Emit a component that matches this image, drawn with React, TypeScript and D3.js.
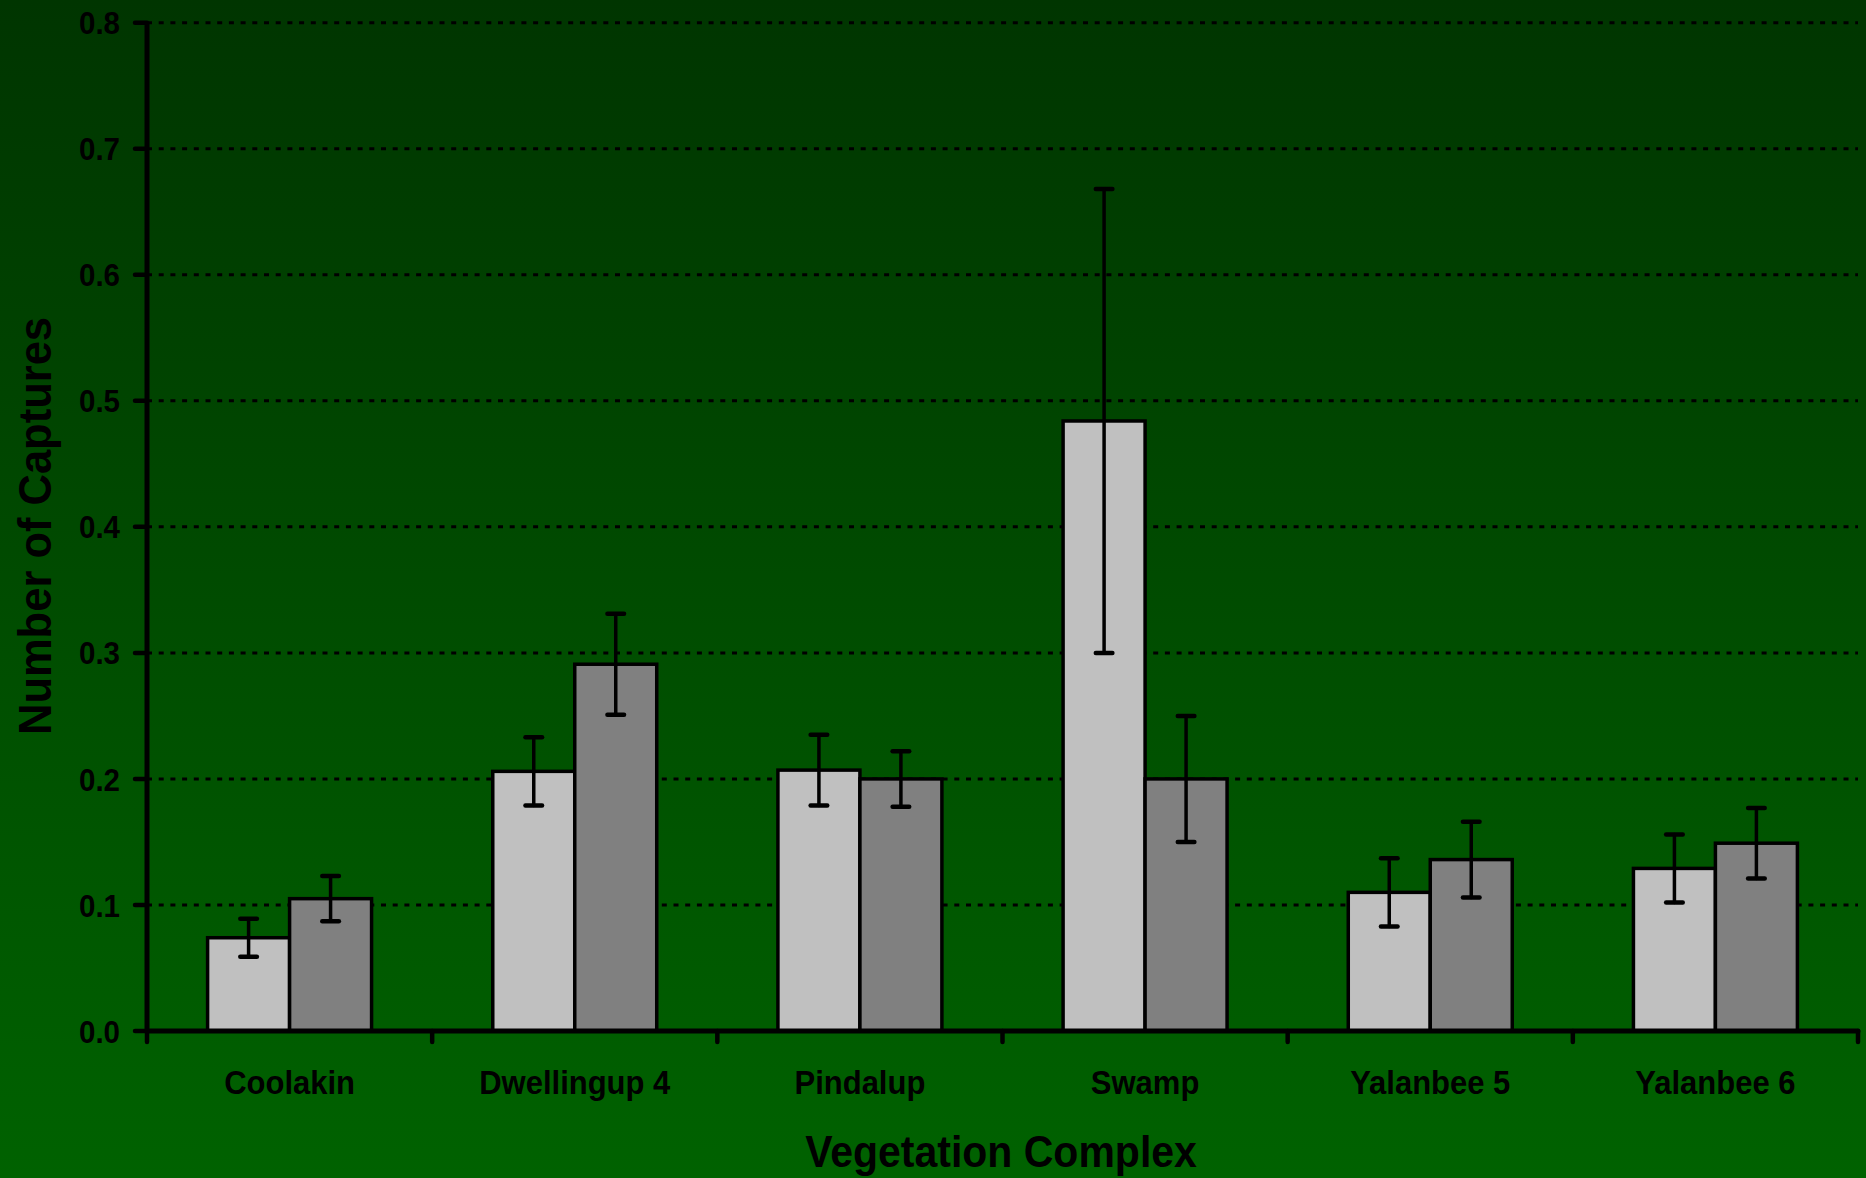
import React from "react";
import * as d3 from "d3";

const categories = ["Coolakin", "Dwellingup 4", "Pindalup", "Swamp", "Yalanbee 5", "Yalanbee 6"];
const seriesNames = ["A", "B"];
const seriesColors = ["#C0C0C0", "#808080"];
const valuesA = [0.074, 0.206, 0.207, 0.484, 0.110, 0.129];
const errA = [0.015, 0.027, 0.028, 0.184, 0.027, 0.027];
const valuesB = [0.105, 0.291, 0.200, 0.200, 0.136, 0.149];
const errB = [0.018, 0.040, 0.022, 0.050, 0.030, 0.028];
const yTicks = [0, 0.1, 0.2, 0.3, 0.4, 0.5, 0.6, 0.7, 0.8];

const W = 1866;
const H = 1178;
const FONT = "'Liberation Sans', Arial, sans-serif";
const SY = 1.08;

export default function App() {
  const x0 = 147;
  const x1 = 1858;
  const yBase = 1031;
  const yTop = 22.7;
  const x = d3.scaleBand<string>().domain(categories).range([x0, x1]).paddingInner(0).paddingOuter(0);
  const y = d3.scaleLinear().domain([0, 0.8]).range([yBase, yTop]);
  const groupHalf = x.bandwidth() * 0.2875;
  const inner = d3.scaleBand<string>().domain(seriesNames).range([-groupHalf, groupHalf]).padding(0);
  const series = [
    { name: "A", vals: valuesA, errs: errA, color: seriesColors[0] },
    { name: "B", vals: valuesB, errs: errB, color: seriesColors[1] },
  ];
  const boundaries = [...categories.map((c) => x(c) as number), x1];
  const capHalf = 8.3;

  return (
    <svg width={W} height={H} style={{ position: "absolute", left: 0, top: 0, display: "block" }}>
      <defs>
        <linearGradient id="bg" x1="0" y1="0" x2="0" y2="1">
          <stop offset="0" stopColor="#003500" />
          <stop offset="1" stopColor="#006200" />
        </linearGradient>
      </defs>
      <rect x={0} y={0} width={W} height={H} fill="url(#bg)" />
      {/* gridlines */}
      {yTicks.filter((t) => t > 0).map((t) => (
        <line key={"g" + t} x1={x0} x2={x1} y1={y(t)} y2={y(t)} stroke="#000" strokeWidth={3} strokeDasharray="5,6.7" />
      ))}
      {/* bars */}
      {series.map((s) =>
        categories.map((c, i) => {
          const cx = (x(c) as number) + x.bandwidth() / 2;
          const bx = cx + (inner(s.name) as number);
          return (
            <rect key={s.name + c} x={bx} y={y(s.vals[i])} width={inner.bandwidth()} height={yBase - y(s.vals[i])}
              fill={s.color} stroke="#000" strokeWidth={3.5} />
          );
        })
      )}
      {/* error bars */}
      {series.map((s) =>
        categories.map((c, i) => {
          const cx = (x(c) as number) + x.bandwidth() / 2 + (inner(s.name) as number) + inner.bandwidth() / 2;
          const hi = y(s.vals[i] + s.errs[i]);
          const lo = y(s.vals[i] - s.errs[i]);
          return (
            <g key={"e" + s.name + c} stroke="#000" strokeLinecap="round">
              <line x1={cx} x2={cx} y1={hi} y2={lo} strokeWidth={3.5} />
              <line x1={cx - capHalf} x2={cx + capHalf} y1={hi} y2={hi} strokeWidth={4.5} />
              <line x1={cx - capHalf} x2={cx + capHalf} y1={lo} y2={lo} strokeWidth={4.5} />
            </g>
          );
        })
      )}
      {/* axes */}
      <line x1={x0} x2={x0} y1={yTop} y2={yBase} stroke="#000" strokeWidth={5} />
      <line x1={x0} x2={x1} y1={yBase} y2={yBase} stroke="#000" strokeWidth={5} strokeLinecap="round" />
      {yTicks.map((t) => (
        <g key={"yt" + t}>
          <line x1={135} x2={x0} y1={y(t)} y2={y(t)} stroke="#000" strokeWidth={4.5} strokeLinecap="round" />
          <text transform={`translate(120,${y(t) + 11.6}) scale(1,${SY})`} textAnchor="end" fontFamily={FONT}
            fontWeight="bold" fontSize={29.5} fill="#000">{t.toFixed(1)}</text>
        </g>
      ))}
      {boundaries.map((bx, i) => (
        <line key={"xt" + i} x1={bx} x2={bx} y1={yBase} y2={yBase + 11} stroke="#000" strokeWidth={4.5} strokeLinecap="round" />
      ))}
      {categories.map((c) => (
        <text key={"cl" + c} transform={`translate(${(x(c) as number) + x.bandwidth() / 2},1094.3) scale(1,${SY})`}
          textAnchor="middle" fontFamily={FONT} fontWeight="bold" fontSize={31} fill="#000">{c}</text>
      ))}
      <text transform={`translate(1001,1167.3) scale(1,${SY})`} textAnchor="middle" fontFamily={FONT}
        fontWeight="bold" fontSize={41} fill="#000">Vegetation Complex</text>
      <text transform={`translate(50.7,526) rotate(-90) scale(1,${SY})`} textAnchor="middle" fontFamily={FONT}
        fontWeight="bold" fontSize={43.5} fill="#000">Number of Captures</text>
    </svg>
  );
}
